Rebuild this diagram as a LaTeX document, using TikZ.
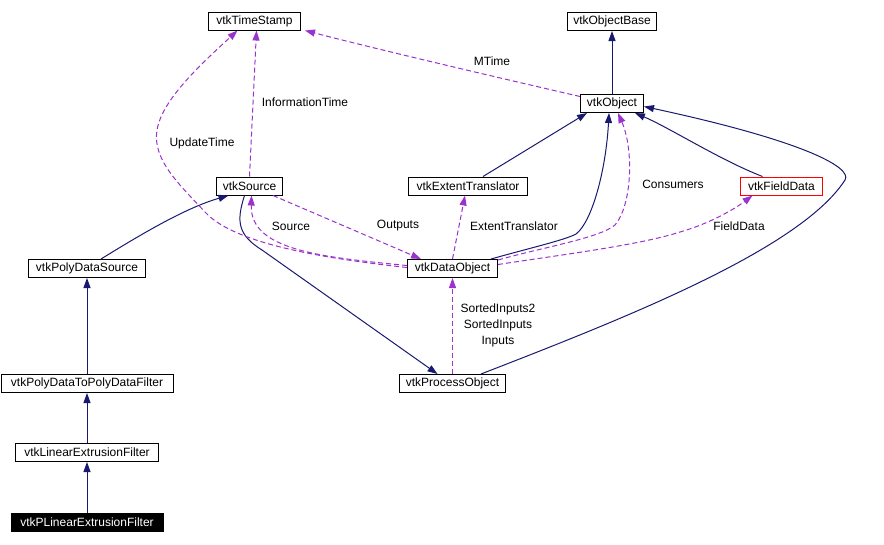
\documentclass[tikz,border=0pt]{standalone}
\usepackage{fontspec}
\setmainfont{Liberation Sans}
\setsansfont{Liberation Sans}
\usepackage{tikz}
\usetikzlibrary{arrows.meta}
\definecolor{inheritblue}{RGB}{25,25,112}
\definecolor{usepurple}{RGB}{154,50,205}
\definecolor{alertred}{RGB}{255,0,0}
\newcommand{\classbox}[5][]{\node[cls,minimum width=#4pt,#1] (#2) at (#3) {#5};}
\newcommand{\edgelabel}[3]{\node[lbl] (#1) at (#2) {#3};}

\begin{document}
\begin{tikzpicture}[x=1pt, y=-1pt, font=\fontsize{12}{16}\selectfont,
  cls/.style={draw=black, line width=1pt, minimum height=18pt, inner xsep=3pt, inner ysep=0pt},
  lbl/.style={inner sep=0pt, align=center},
  inherit/.style={draw=inheritblue, line width=1pt, -{Triangle[length=10pt,width=7pt]}},
  uses/.style={draw=usepurple, line width=1pt, dash pattern=on 5pt off 3pt, -{Triangle[length=10pt,width=7pt]}}]
  \useasboundingbox (0,0) rectangle (884,544);
  \classbox{ts}{254.5,21}{92}{vtkTimeStamp}
  \classbox{objbase}{612,21.5}{89}{vtkObjectBase}
  \classbox{obj}{612,103.5}{63}{vtkObject}
  \classbox{src}{249.5,186}{66}{vtkSource}
  \classbox{ext}{468,186}{119}{vtkExtentTranslator}
  \classbox[draw=alertred]{fd}{781.5,186}{82}{vtkFieldData}
  \classbox{pds}{87,268.5}{117}{vtkPolyDataSource}
  \classbox{dob}{452.5,268.5}{90}{vtkDataObject}
  \classbox{pdf2pdf}{87,383.5}{172}{vtkPolyDataToPolyDataFilter}
  \classbox{po}{452.5,383.5}{106}{vtkProcessObject}
  \classbox{lin}{87,452.5}{143}{vtkLinearExtrusionFilter}
  \classbox[fill=black, text=white]{plin}{87,522.5}{152}{vtkPLinearExtrusionFilter}

  \draw[inherit] (obj) -- (objbase);
  \draw[inherit] (pdf2pdf) -- (pds);
  \draw[inherit] (lin) -- (pdf2pdf);
  \draw[inherit] (plin) -- (lin);
  \draw[inherit] ([xshift=14pt]pds.north) .. controls (140,235) and (185,208) .. ([xshift=-21pt]src.south);
  \draw[inherit] ([xshift=-5pt]src.south) .. controls (236,222) and (238,235) .. (262,250) -- ([xshift=-15pt]po.north);
  \draw[inherit] ([xshift=15pt]ext.north) -- ([xshift=-25pt]obj.south);
  \draw[inherit] ([xshift=-19pt]fd.north) .. controls (720,160) and (670,128) .. ([xshift=-9pt]obj.south east);
  \draw[inherit] ([xshift=-7pt]dob.north east) .. controls (530,248) and (565,240) .. (576,234)
    .. controls (592,222) and (606,170) .. ([xshift=-3pt]obj.south);
  \draw[inherit] ([xshift=-25pt]po.north east) .. controls (620,320) and (800,250) .. (845,180)
    .. controls (853,167) and (800,140) .. ([yshift=-3pt]obj.east);

  \draw[uses] ([yshift=7pt]obj.west) .. controls (500,78) and (380,50) .. ([xshift=4pt]ts.south east);
  \draw[uses] (src.north) -- ([xshift=2pt]ts.south);
  \draw[uses] ([yshift=1pt]dob.west) .. controls (330,259) and (235,245) .. (205,212)
    .. controls (180,185) and (152,160) .. (157,130)
    .. controls (162,100) and (200,65) .. ([xshift=-17pt]ts.south);
  \draw[uses] ([yshift=3pt]dob.west) .. controls (320,257) and (250,250) .. ([xshift=2pt]src.south);
  \draw[uses] ([xshift=-10pt]src.south east) -- ([xshift=14pt]dob.north west);
  \draw[uses] (dob.north) -- ([xshift=-3pt]ext.south);
  \draw[uses] ([yshift=-1pt]dob.north east) .. controls (540,248) and (600,238) .. (615,225)
    .. controls (632,205) and (634,150) .. ([xshift=6pt]obj.south);
  \draw[uses] ([yshift=4pt]dob.east) .. controls (560,255) and (640,245) .. (680,232)
    .. controls (715,222) and (740,205) .. ([xshift=-29pt]fd.south);
  \draw[uses] (po) -- (dob);

  \edgelabel{mtime}{492,61}{MTime}
  \edgelabel{infotime}{305,102}{InformationTime}
  \edgelabel{updtime}{202,143}{UpdateTime}
  \edgelabel{consumers}{673,184}{Consumers}
  \edgelabel{fdlbl}{739,226}{FieldData}
  \edgelabel{extlbl}{514,226}{ExtentTranslator}
  \edgelabel{srclbl}{291,226}{Source}
  \edgelabel{outlbl}{398,226}{Outputs}
  \edgelabel{inlbl}{498,325}{SortedInputs2\\SortedInputs\\Inputs}
\end{tikzpicture}
\end{document}
